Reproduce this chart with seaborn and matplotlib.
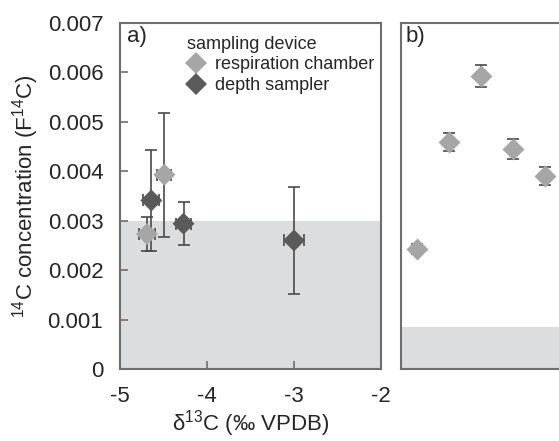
import numpy as np
import pandas as pd
import matplotlib
matplotlib.use('Agg')
import matplotlib.pyplot as plt
import seaborn as sns

# panel a: d13C vs F14C by sampling device
rc_d13c = [-4.69, -4.49]
rc_f14c = [0.00273, 0.00393]
rc_f14c_err = [0.00035, 0.00125]
rc_d13c_err = [0.09, 0.08]

ds_d13c = [-4.64, -4.27, -3.00]
ds_f14c = [0.00341, 0.00294, 0.00260]
ds_f14c_err = [0.00103, 0.00044, 0.00109]
ds_d13c_err = [0.09, 0.09, 0.11]

devices = ['respiration chamber', 'depth sampler']
limit_a = 0.003  # shaded blank level, panel a

# panel b: respiration chamber samples
b_sample = [1, 2, 3, 4, 5]
b_f14c = [0.00242, 0.00460, 0.00593, 0.00445, 0.00390]
b_f14c_err = [0.00010, 0.00018, 0.00023, 0.00020, 0.00018]
limit_b = 0.00084

y_ticks = [0, 0.001, 0.002, 0.003, 0.004, 0.005, 0.006, 0.007]
y_ticklabels = ['0', '0.001', '0.002', '0.003', '0.004', '0.005', '0.006', '0.007']
x_ticks = [-5, -4, -3, -2]
x_ticklabels = ['-5', '-4', '-3', '-2']

sns.set_style('ticks')
plt.rcParams['font.family'] = ['Liberation Sans', 'DejaVu Sans']
plt.rcParams['mathtext.fontset'] = 'custom'
plt.rcParams['mathtext.rm'] = 'Liberation Sans'
plt.rcParams['mathtext.it'] = 'Liberation Sans'
plt.rcParams['mathtext.default'] = 'regular'
plt.rcParams['axes.unicode_minus'] = False

light = '#a6a6a6'
dark = '#5a5a5a'
shade = '#dcdddf'
spine = '#6e6e6e'
ebar = '#4a4a4a'

df = pd.DataFrame({
    'd13C': rc_d13c + ds_d13c,
    'F14C': rc_f14c + ds_f14c,
    'sampling device': [devices[0]] * len(rc_d13c) + [devices[1]] * len(ds_d13c),
})
df_b = pd.DataFrame({'sample': b_sample, 'F14C': b_f14c})

fig = plt.figure(figsize=(5.59, 4.41), dpi=100)
ax = fig.add_axes([120 / 559, 1 - 369 / 441, 261 / 559, 346 / 441])
axb = fig.add_axes([401 / 559, 1 - 369 / 441, 200 / 559, 346 / 441])

# panel a
ax.set_axisbelow(False)
ax.axhspan(0, limit_a, color=shade, lw=0, zorder=0)
ax.errorbar(rc_d13c, rc_f14c, yerr=rc_f14c_err, xerr=rc_d13c_err, fmt='none',
            ecolor=ebar, elinewidth=1.2, capsize=4, capthick=1.2, zorder=2)
ax.errorbar(ds_d13c, ds_f14c, yerr=ds_f14c_err, xerr=ds_d13c_err, fmt='none',
            ecolor=ebar, elinewidth=1.2, capsize=4, capthick=1.2, zorder=2)
sns.scatterplot(data=df, x='d13C', y='F14C', hue='sampling device',
                palette=[light, dark], marker='D', s=125, linewidth=0,
                ax=ax, zorder=3)
ax.set_xlim(-5, -2)
ax.set_ylim(0, 0.007)
ax.set_xticks(x_ticks)
ax.set_xticklabels(x_ticklabels)
ax.set_yticks(y_ticks)
ax.set_yticklabels(y_ticklabels)
ax.tick_params(direction='in', length=6, width=1.2, color=spine, labelsize=16)
ax.tick_params(axis='y', pad=12)
ax.tick_params(axis='x', pad=12)
ax.set_xlabel('δ$^{13}$C (‰ VPDB)', fontsize=16, labelpad=1)
ax.set_ylabel('$^{14}$C concentration (F$^{14}$C)', fontsize=16, labelpad=5)
for s in ax.spines.values():
    s.set_visible(True)
    s.set_color(spine)
    s.set_linewidth(1.5)
ax.text(0.025, 0.99, 'a)', transform=ax.transAxes, ha='left', va='top', fontsize=16)
sns.move_legend(ax, 'upper left', bbox_to_anchor=(0.21, 1.0), frameon=False,
                fontsize=13, title_fontsize=13, handletextpad=0.55,
                handlelength=1.0, labelspacing=0.2, borderaxespad=0.3,
                alignment='left')

# panel b
axb.set_axisbelow(False)
axb.axhspan(0, limit_b, color=shade, lw=0, zorder=0)
axb.errorbar(b_sample, b_f14c, yerr=b_f14c_err, fmt='none', ecolor=ebar,
             elinewidth=1.2, capsize=4, capthick=1.2, zorder=2)
sns.scatterplot(data=df_b, x='sample', y='F14C', color=light, marker='D',
                s=125, linewidth=0, ax=axb, zorder=3, legend=False)
axb.set_xlim(0.5, 6.75)
axb.set_ylim(0, 0.007)
axb.set_xticks([])
axb.set_yticks([])
axb.set_xlabel('')
axb.set_ylabel('')
for s in axb.spines.values():
    s.set_visible(True)
    s.set_color(spine)
    s.set_linewidth(1.5)
axb.text(0.025, 0.99, 'b)', transform=axb.transAxes, ha='left', va='top', fontsize=16)

fig.savefig('out.png', dpi=100)
